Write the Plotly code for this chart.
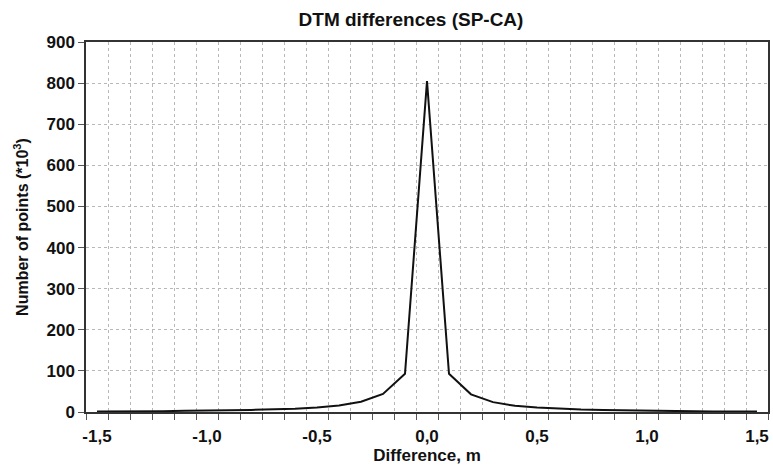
import plotly.graph_objects as go

categories = [round(-1.5 + 0.1 * i, 1) for i in range(31)]
counts = [1, 1, 2, 2, 3, 3, 4, 5, 6, 8, 11, 16, 25, 44, 93,
          805,
          93, 43, 24, 15, 11, 8, 6, 5, 4, 3, 2, 2, 1, 1, 1]
tick_vals = [-1.5, -1.0, -0.5, 0.0, 0.5, 1.0, 1.5]
tick_text = ["-1,5", "-1,0", "-0,5", "0,0", "0,5", "1,0", "1,5"]
boundaries = [round(-1.55 + 0.1 * i, 2) for i in range(32)]

fig = go.Figure()
fig.add_trace(go.Scatter(x=categories, y=counts, mode="lines",
                         line=dict(color="#111111", width=2)))

font = "Liberation Sans, Arial, sans-serif"
grid_col = "#b8b8b8"
fig.update_layout(
    width=773, height=466,
    margin=dict(l=86, r=5, t=42, b=54),
    paper_bgcolor="white", plot_bgcolor="white",
    showlegend=False,
    title=dict(text="<b>DTM differences (SP-CA)</b>", x=411 / 773, xref="container",
               xanchor="center", y=1 - 19 / 466, yanchor="middle",
               font=dict(family=font, size=19, color="#111")),
    font=dict(family=font, color="#111"),
)
fig.update_xaxes(
    range=[-1.55, 1.55], tickmode="array", tickvals=tick_vals, ticktext=tick_text,
    showgrid=False, ticks="outside", ticklen=8, tickcolor="rgba(0,0,0,0)",
    tickfont=dict(size=17, family=font, weight="bold"),
    showline=True, linecolor="#333", linewidth=1.5, mirror=True,
    zeroline=False, automargin=False,
    minor=dict(tickmode="array", tickvals=boundaries, ticks="outside", ticklen=6,
               tickcolor="#555", showgrid=True, gridcolor=grid_col, griddash="dot", gridwidth=1),
    title=dict(text="<b>Difference, m</b>", font=dict(size=17, family=font), standoff=4),
)
fig.update_yaxes(
    range=[0, 900], dtick=100, tick0=0,
    showgrid=True, gridcolor=grid_col, griddash="dot", gridwidth=1,
    ticks="outside", ticklen=6, tickcolor="#555",
    tickfont=dict(size=17, family=font, weight="bold"),
    showline=True, linecolor="#333", linewidth=1.5, mirror=True,
    zeroline=False, automargin=False,
    title=dict(text="<b>Number of points (*10<sup>3</sup>)</b>", font=dict(size=16, family=font), standoff=14),
)

fig.write_html("out.html", config={"displayModeBar": False},
               post_script="document.body.style.margin='0';")
